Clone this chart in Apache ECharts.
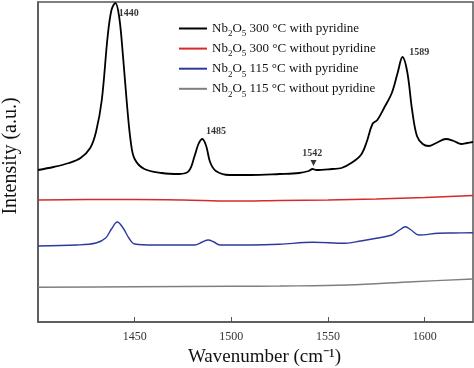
<!DOCTYPE html>
<html><head><meta charset="utf-8">
<script src="https://cdn.jsdelivr.net/npm/echarts@6/dist/echarts.min.js"></script>
<style>html,body{margin:0;padding:0;background:#fff}#c{width:474px;height:368px}</style>
</head><body><div id="c"></div>
<script>
const seriesNames = [
  'Nb2O5 300 °C with pyridine',
  'Nb2O5 300 °C without pyridine',
  'Nb2O5 115 °C with pyridine',
  'Nb2O5 115 °C without pyridine'
];
const xTicks = [1450, 1500, 1550, 1600];
const black300With = [
  [1400,152],[1408,155],[1416,159],[1422,164],[1427,174],[1430,190],[1433,222],[1436,285],[1438,312],[1440,319],
  [1442,305],[1444,265],[1446,218],[1448,180],[1450,163],[1455,153],[1464,149],[1473,148],[1478,151],[1481,166],
  [1483,178],[1485,183],[1487,176],[1489,160],[1492,151],[1499,147],[1510,147],[1525,148],[1535,149],[1540,151],
  [1542,153],[1544,152],[1552,153],[1557,154],[1562,159],[1567,167],[1570,180],[1573,198],[1575.5,202],[1579,214],
  [1583,229],[1586,249],[1588.5,265],[1591,250],[1593.5,212],[1596,186],[1599,178],[1602,176],[1606,179],[1611,183],
  [1615,181],[1619,178],[1622,179],[1625,180]
];
const red300Without = [
  [1400,122],[1425,122.5],[1450,122.5],[1475,122],[1500,121],[1525,121.5],[1550,122],[1575,123],[1600,124.5],[1625,126.5]
];
const blue115With = [
  [1400,76],[1420,77],[1430,79],[1435,84],[1438,93],[1441,100],[1444,94],[1447,84],[1450,78],[1460,77],[1470,77],
  [1481,77],[1485,80],[1488,82],[1491,80],[1494,77],[1510,77],[1525,77.7],[1542,79.7],[1559,78.7],[1567,81],
  [1575,83.7],[1583,87],[1587,92],[1590,95.3],[1593,92],[1597,87],[1607,88.7],[1615,89],[1625,89.3]
];
const gray115Without = [
  [1400,34.7],[1450,35.2],[1500,35.7],[1525,36],[1560,37],[1594,40.3],[1625,43]
];
const peakLabels = [
  {value:[1446.9,309], text:'1440'},
  {value:[1492.1,191], text:'1485'},
  {value:[1541.9,168.7], text:'1542'},
  {value:[1597.2,269.7], text:'1589'}
];
const arrowMarks = [[1542.5,159]];

const serif = '"Liberation Serif","Times New Roman",serif';
const colors = ['#000000', '#d62a2a', '#2c3a9c', '#7f7f7f'];
const datasets = [black300With, red300Without, blue115With, gray115Without];

const chart = echarts.init(document.getElementById('c'));
const lineSeries = datasets.map((d, i) => ({
  name: seriesNames[i], type: 'line', data: d, symbol: 'none', showSymbol: false, smooth: 0.35,
  lineStyle: {color: colors[i], width: i === 0 ? 1.8 : 1.4}, itemStyle: {color: colors[i]},
  z: 5 - i, silent: true, animation: false
}));
chart.setOption({
  animation: false,
  grid: {left: 38, right: 1, top: 2, bottom: 46, show: true, borderColor: '#555', borderWidth: 1.5, outerBoundsMode: 'none', containLabel: false},
  legend: {
    orient: 'vertical', left: 173, top: 17, itemWidth: 28, itemHeight: 10, itemGap: 3.6,
    data: seriesNames.map(n => ({name: n, itemStyle: {opacity: 0}})),
    itemStyle: {opacity: 0, borderWidth: 0},
    textStyle: {fontFamily: serif, fontSize: 13, color: '#111',
      rich: {
        a: {fontFamily: serif, fontSize: 13, color: '#111', lineHeight: 14},
        s: {fontFamily: serif, fontSize: 9, color: '#111', lineHeight: 8, verticalAlign: 'bottom', padding:[0,0,-3,0]}
      }
    },
    formatter: n => { const rest = n.replace('Nb2O5', ''); return '{a|Nb}{s|2}{a|O}{s|5}{a|' + rest + '}'; }
  },
  xAxis: {
    type: 'value', min: 1400, max: 1625, interval: 50,
    name: 'Wavenumber (cm⁻¹)', nameLocation: 'middle', nameGap: 25,
    nameTextStyle: {fontFamily: serif, fontSize: 19, color: '#111', padding: [0,0,0,18]},
    axisLine: {show: true, lineStyle: {color: '#555', width: 1.5}},
    axisTick: {show: true, inside: true, length: 5, lineStyle: {color: '#555'}, customValues: xTicks},
    axisLabel: {fontFamily: serif, fontSize: 12, color: '#333', margin: 9, customValues: xTicks, formatter: v => String(v)},
    splitLine: {show: false}
  },
  yAxis: {
    type: 'value', min: 0, max: 320,
    name: 'Intensity (a.u.)', nameLocation: 'middle', nameGap: 17, nameRotate: 90,
    nameTextStyle: {fontFamily: serif, fontSize: 20, color: '#111', padding: [0,0,0,12]},
    axisLine: {show: true, lineStyle: {color: '#555', width: 1.5}},
    axisTick: {show: false}, axisLabel: {show: false}, splitLine: {show: false}
  },
  series: lineSeries.concat([
    {type: 'scatter', data: peakLabels.map(p => ({value: p.value, text: p.text})), symbolSize: 0, silent: true,
     label: {show: true, position: 'inside', formatter: p => p.data.text, fontFamily: serif, fontWeight: 'bold', fontSize: 10, color: '#000'}},
    {type: 'scatter', data: arrowMarks, symbol: 'triangle', symbolRotate: 180, symbolSize: [6,6], itemStyle: {color: '#000'}, silent: true}
  ])
});
</script></body></html>
